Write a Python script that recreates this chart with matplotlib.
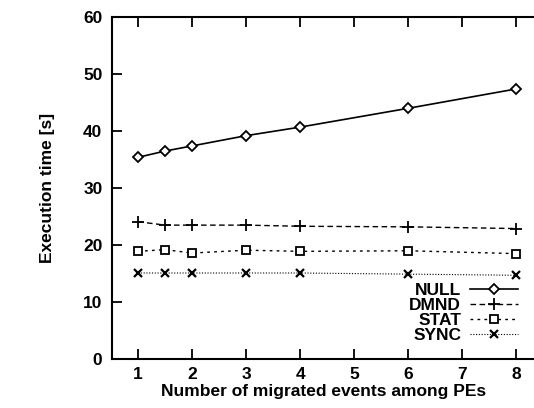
import matplotlib
matplotlib.use("Agg")
import matplotlib.pyplot as plt

plt.rcParams['font.family'] = ['Liberation Sans', 'DejaVu Sans']
plt.rcParams['font.weight'] = 'bold'

x = [1, 1.5, 2, 3, 4, 6, 8]
null_t = [35.4, 36.5, 37.4, 39.2, 40.7, 44.0, 47.4]
dmnd_t = [24.1, 23.5, 23.5, 23.5, 23.3, 23.2, 22.9]
stat_t = [18.9, 19.2, 18.6, 19.1, 18.9, 19.0, 18.5]
sync_t = [15.1, 15.1, 15.1, 15.1, 15.1, 14.9, 14.7]

fig = plt.figure(figsize=(5.34, 4.08), dpi=100)
ax = fig.add_axes([0.21, 0.12, 0.79, 0.838])

ax.plot(x, null_t, color='black', lw=1.2, ls='-', marker='D', ms=5,
        mfc='white', mec='black', mew=1.3, label='NULL')
ax.plot(x, dmnd_t, color='black', lw=1.0, ls=(0, (4, 2.5)), marker='+', ms=8,
        mew=1.3, label='DMND')
ax.plot(x, stat_t, color='black', lw=1.0, ls=(0, (2, 3)), marker='s', ms=6,
        mfc='white', mec='black', mew=1.3, label='STAT')
ax.plot(x, sync_t, color='black', lw=0.8, ls=(0, (1, 1.5)), marker='x', ms=6,
        mew=1.6, label='SYNC')

ax.set_xlim(0.52, 8.33)
ax.set_ylim(0, 60)
ax.set_xticks([1, 2, 3, 4, 5, 6, 7, 8])
ax.set_yticks([0, 10, 20, 30, 40, 50, 60])
ax.tick_params(direction='in', length=7, width=1.3, labelsize=12.5, top=True,
               right=False)
ax.tick_params(axis='x', pad=6)
ax.tick_params(axis='y', pad=7)
for lab in ax.get_xticklabels() + ax.get_yticklabels():
    lab.set_fontweight('bold')
ax.spines['right'].set_visible(False)
for s in ['left', 'bottom', 'top']:
    ax.spines[s].set_linewidth(1.5)

ax.set_xlabel('Number of migrated events among PEs', fontsize=12.5, fontweight='bold', labelpad=1)
ax.set_ylabel('Execution time [s]', fontsize=12.5, fontweight='bold', labelpad=20)

leg = ax.legend(loc='lower right', frameon=False, markerfirst=False,
                handlelength=2.8, handletextpad=0.5, labelspacing=0.0,
                borderaxespad=0.5, prop={'weight': 'bold', 'size': 12.5})

fig.savefig('out.png', dpi=100)
